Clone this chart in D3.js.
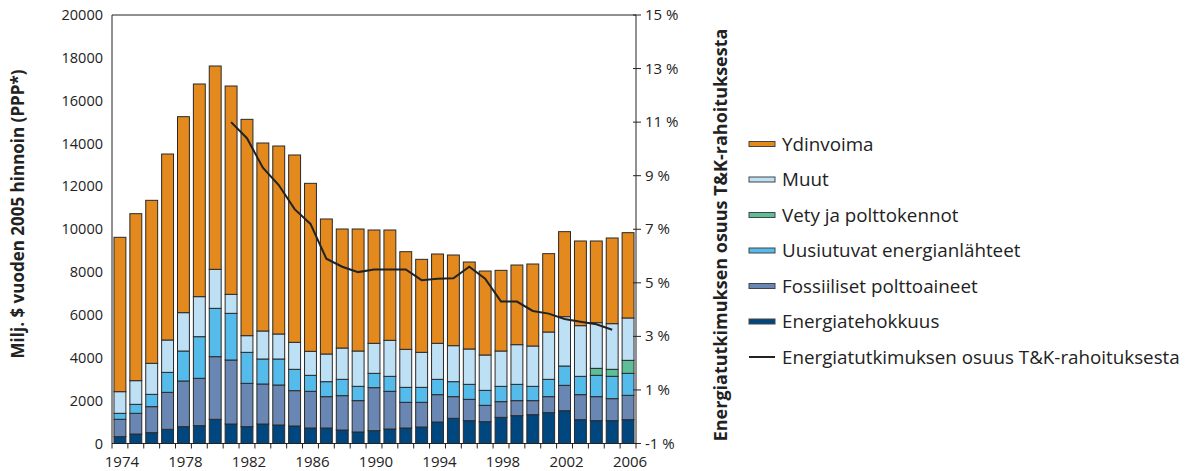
<!DOCTYPE html>
<html><head><meta charset="utf-8">
<script src="https://cdn.jsdelivr.net/npm/d3@7"></script>
<style>
body{margin:0;background:#fff;}
svg text{font-family:"Open Sans","Noto Sans",sans-serif;fill:#222;}
</style></head>
<body><svg id="c" width="1196" height="471"></svg>
<script>
const years = d3.range(1974, 2007);
const tehokkuus = [319,443,506,661,786,832,1128,910,786,910,863,817,723,723,630,537,599,677,723,770,1003,1175,1066,1019,1221,1299,1346,1439,1532,1112,1066,1066,1112];
const fossiiliset = [810,966,1213,1727,2131,2210,2925,2987,2022,1867,1867,1649,1712,1463,1603,1463,2007,1758,1198,1151,1277,1011,995,762,732,701,654,747,1183,1168,1120,1027,1136];
const uusiutuvat = [280,419,576,933,1400,1944,2256,2178,1447,1167,1214,996,747,700,762,668,669,700,700,700,715,700,700,700,715,761,668,809,902,855,996,1042,1027];
const vety = [0,0,0,0,0,0,0,0,0,0,0,0,0,0,0,0,0,0,0,0,0,0,0,0,0,0,0,0,0,0,326,327,607];
const muut = [1010,1105,1447,1510,1790,1868,1820,887,778,1307,1167,1261,1120,1291,1462,1649,1401,1681,1774,1634,1681,1680,1650,1650,1649,1852,1883,2209,2303,2365,2132,2131,1977];
const ydinvoima = [7205,7794,7608,8681,9148,9926,9491,9724,10097,8775,8775,8743,7841,6302,5555,5695,5289,5149,4558,4341,4169,4232,4060,3920,3765,3718,3827,3657,3968,3952,3812,3999,3982];
const lineYears = d3.range(1981, 2006);
const osuus = [11.0,10.4,9.3,8.65,7.75,7.2,5.9,5.6,5.4,5.5,5.5,5.5,5.1,5.15,5.17,5.6,5.15,4.3,4.3,3.95,3.85,3.65,3.55,3.45,3.25];
const leftTicks = [0,2000,4000,6000,8000,10000,12000,14000,16000,18000,20000];
const rightTicks = [-1,1,3,5,7,9,11,13,15];
const xLabels = [1974,1978,1982,1986,1990,1994,1998,2002,2006];

const seriesKeys = ["Energiatehokkuus","Fossiiliset polttoaineet","Uusiutuvat energianlähteet","Vety ja polttokennot","Muut","Ydinvoima"];
const seriesVals = [tehokkuus, fossiiliset, uusiutuvat, vety, muut, ydinvoima];
const colors = ["#00467f","#6a87b3","#55bbea","#5dbf99","#bee0f5","#e3891e"];
const lineName = "Energiatutkimuksen osuus T&K-rahoituksesta";

const svg = d3.select("#c");
const x0 = 112, x1 = 636, yb = 443.5, yt = 15;
const x = d3.scaleBand().domain(years).range([x0, x1]).paddingInner(0.25).paddingOuter(0.125);
const y = d3.scaleLinear().domain([0,20000]).range([yb, yt]);
const y2 = d3.scaleLinear().domain([-1,15]).range([yb, yt]);

const rows = years.map((yr,i)=>{const o={year:yr}; seriesKeys.forEach((k,j)=>o[k]=seriesVals[j][i]); return o;});
const stacked = d3.stack().keys(seriesKeys)(rows);

const g = svg.append("g");
g.selectAll("g.s").data(stacked).join("g").attr("fill",(d,i)=>colors[i])
 .selectAll("rect").data(d=>d.filter(p=>p[1]-p[0]>0)).join("rect")
 .attr("x",d=>x(d.data.year)).attr("width",x.bandwidth())
 .attr("y",d=>y(d[1])).attr("height",d=>y(d[0])-y(d[1]))
 .attr("stroke","#2a2a2a").attr("stroke-width",1);

// frame: left axis line, top line, right axis
svg.append("path").attr("d",`M${x0},${yb}V${yt}H${x1}V${yb}`).attr("fill","none").attr("stroke","#222").attr("stroke-width",1);

// x axis
const xAxis = svg.append("g");
xAxis.append("line").attr("x1",x0).attr("x2",x1).attr("y1",yb).attr("y2",yb).attr("stroke","#222");
const step = x.step();
d3.range(0, years.length+1).forEach(i=>{
  const xx = x0 + x.paddingOuter()*step - x.paddingInner()*step/2 + i*step;
  xAxis.append("line").attr("x1",xx).attr("x2",xx).attr("y1",yb).attr("y2",yb+5).attr("stroke","#222");
});
xAxis.selectAll("text").data(xLabels).join("text")
 .attr("x",d=>x(d)+x.bandwidth()/2+2).attr("y",467).attr("text-anchor","middle")
 .attr("font-size","15px").text(d=>d);

// left axis labels
svg.append("g").selectAll("text").data(leftTicks).join("text")
 .attr("x",103).attr("y",d=>y(d)+5).attr("text-anchor","end").attr("font-size","14.5px").text(d=>d);

// right axis ticks & labels
const ra = svg.append("g");
ra.selectAll("line").data(rightTicks).join("line")
 .attr("x1",x1-3).attr("x2",x1+5).attr("y1",d=>y2(d)).attr("y2",d=>y2(d)).attr("stroke","#222");
ra.selectAll("text").data(rightTicks).join("text")
 .attr("x",645).attr("y",d=>y2(d)+5).attr("font-size","15px").text(d=>d+" %");

// line
svg.append("path").datum(osuus)
 .attr("d", d3.line().x((d,i)=>x(lineYears[i])+x.bandwidth()/2).y(d=>y2(d)))
 .attr("fill","none").attr("stroke","#222").attr("stroke-width",2);

// axis titles
svg.append("text").attr("transform","translate(24,214) rotate(-90)").attr("text-anchor","middle")
 .attr("font-size","17px").attr("font-weight","bold").text("Milj. $ vuoden 2005 hinnoin (PPP*)");
svg.append("text").attr("transform","translate(727,235) rotate(-90)").attr("text-anchor","middle")
 .attr("font-size","18px").attr("font-weight","bold").text(lineName);

// legend
const legItems = [5,4,3,2,1,0];
const lg = svg.append("g");
legItems.forEach((si,k)=>{
  const cy = 144 + k*35.5;
  lg.append("rect").attr("x",749).attr("y",cy-2.5).attr("width",26).attr("height",5)
    .attr("fill",colors[si]).attr("stroke","#444").attr("stroke-width",1);
  lg.append("text").attr("x",782).attr("y",cy+6.5).attr("font-size","18.8px").text(seriesKeys[si]);
});
const ly = 144 + 6*35.5;
lg.append("line").attr("x1",749).attr("x2",775).attr("y1",ly).attr("y2",ly).attr("stroke","#222").attr("stroke-width",2);
lg.append("text").attr("x",782).attr("y",ly+6.5).attr("font-size","18.8px").text(lineName);
</script></body></html>
